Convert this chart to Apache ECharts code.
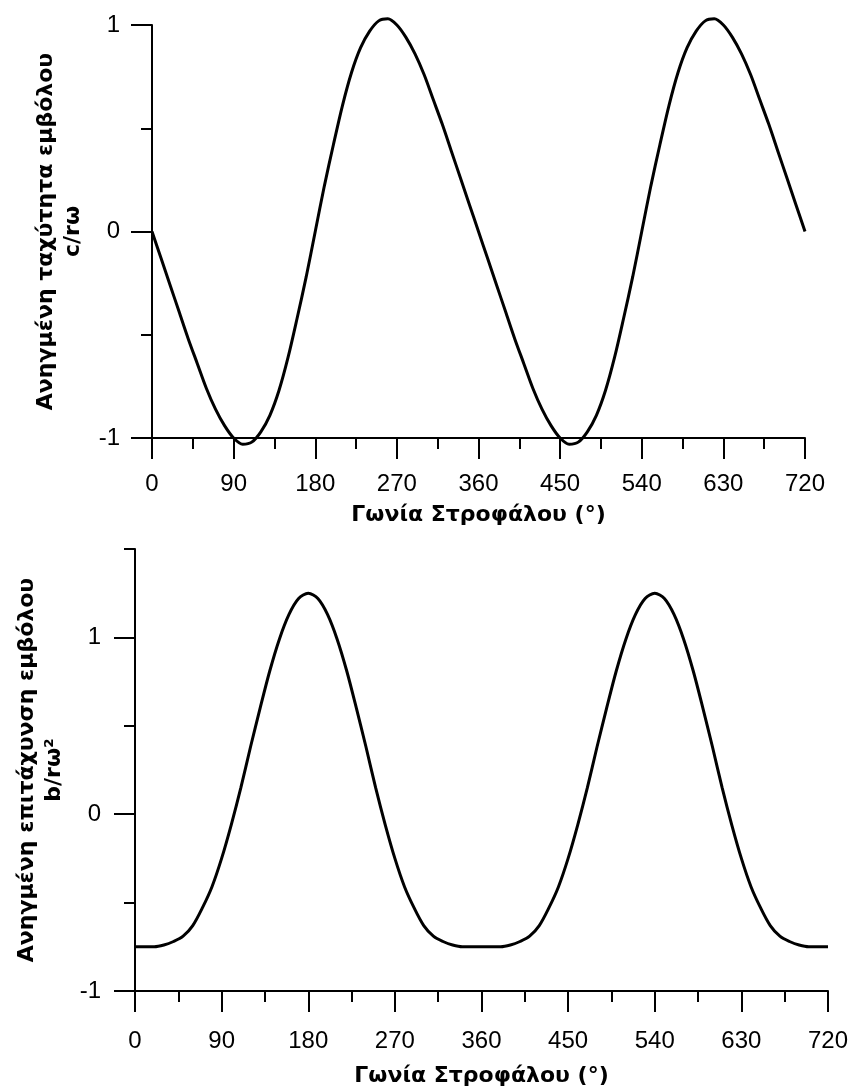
<!DOCTYPE html>
<html>
<head>
<meta charset="utf-8">
<script src="https://cdn.jsdelivr.net/npm/echarts@6/dist/echarts.min.js"></script>
<style>
html,body{margin:0;padding:0;background:#fff;}
#chart{width:852px;height:1088px;}
</style>
</head>
<body>
<div id="chart"></div>
<script>
// Crank angle samples (degrees)
const angles = [0,10,20,30,40,50,60,70,80,90,100,110,120,130,140,150,160,170,180,190,200,210,220,230,240,250,260,270,280,290,300,310,320,330,340,350,
  360,370,380,390,400,410,420,430,440,450,460,470,480,490,500,510,520,530,540,550,560,570,580,590,600,610,620,630,640,650,660,670,680,690,700,710,720];

// Normalized piston velocity c/rω
const velocity = [0,-0.13,-0.26,-0.39,-0.52,-0.64,-0.76,-0.86,-0.94,-1.0,-1.03,-1.02,-0.97,-0.89,-0.77,-0.61,-0.42,-0.22,0,0.22,0.42,0.61,0.77,0.89,0.97,1.02,1.03,1.0,0.94,0.86,0.76,0.64,0.52,0.39,0.26,0.13,
  0,-0.13,-0.26,-0.39,-0.52,-0.64,-0.76,-0.86,-0.94,-1.0,-1.03,-1.02,-0.97,-0.89,-0.77,-0.61,-0.42,-0.22,0,0.22,0.42,0.61,0.77,0.89,0.97,1.02,1.03,1.0,0.94,0.86,0.76,0.64,0.52,0.39,0.26,0.13,0];

// Normalized piston acceleration b/rω²
const acceleration = [-0.75,-0.75,-0.75,-0.74,-0.72,-0.69,-0.63,-0.53,-0.41,-0.25,-0.06,0.15,0.38,0.60,0.81,0.99,1.13,1.22,1.25,1.22,1.13,0.99,0.81,0.60,0.38,0.15,-0.06,-0.25,-0.41,-0.53,-0.63,-0.69,-0.72,-0.74,-0.75,-0.75,
  -0.75,-0.75,-0.75,-0.74,-0.72,-0.69,-0.63,-0.53,-0.41,-0.25,-0.06,0.15,0.38,0.60,0.81,0.99,1.13,1.22,1.25,1.22,1.13,0.99,0.81,0.60,0.38,0.15,-0.06,-0.25,-0.41,-0.53,-0.63,-0.69,-0.72,-0.74,-0.75,-0.75,-0.75];

// Tick values
const xMajorTicks = [0,90,180,270,360,450,540,630,720];
const xMinorTicks = [45,135,225,315,405,495,585,675];
const yTopMajor = [-1,0,1];
const yTopMinor = [-0.5,0.5];
const yBotMajor = [-1,0,1];
const yBotMinor = [-0.5,0.5,1.5];

const xTitle = 'Γωνία Στροφάλου (°)';
const yTopTitle = 'Ανηγμένη ταχύτητα εμβόλου\nc/rω';
const yBotTitle = 'Ανηγμένη επιτάχυνση εμβόλου\nb/rω²';

const FONT = '"Liberation Sans", Arial, sans-serif';
const TITLE_FONT = '"DejaVu Sans", Verdana, sans-serif';
const BLACK = '#000';

function xAxisPair(gridIndex, labelMargin, nameGap) {
  const base = {gridIndex, type:'value', min:0, max:720, position:'bottom', offset:0, splitLine:{show:false}};
  return [
    Object.assign({}, base, {
      axisLine:{show:true, onZero:false, lineStyle:{color:BLACK, width:2}},
      axisTick:{show:true, inside:false, length:11, customValues:xMinorTicks, lineStyle:{color:BLACK, width:2}},
      axisLabel:{show:false}
    }),
    Object.assign({}, base, {
      axisLine:{show:false, onZero:false},
      axisTick:{show:true, inside:false, length:21, customValues:xMajorTicks, lineStyle:{color:BLACK, width:2}},
      axisLabel:{show:true, customValues:xMajorTicks, margin:labelMargin, color:BLACK, fontSize:24, fontFamily:FONT},
      name:xTitle, nameLocation:'middle', nameGap:nameGap,
      nameTextStyle:{color:BLACK, fontSize:22, fontWeight:'bold', fontFamily:TITLE_FONT}
    })
  ];
}

function yAxisPair(gridIndex, min, max, major, minor, labelMargin, title, nameGap) {
  const base = {gridIndex, type:'value', min, max, position:'left', offset:0, splitLine:{show:false}};
  return [
    Object.assign({}, base, {
      axisLine:{show:true, onZero:false, lineStyle:{color:BLACK, width:2}},
      axisTick:{show:true, inside:false, length:11, customValues:minor, lineStyle:{color:BLACK, width:2}},
      axisLabel:{show:false}
    }),
    Object.assign({}, base, {
      axisLine:{show:false, onZero:false},
      axisTick:{show:true, inside:false, length:21, customValues:major, lineStyle:{color:BLACK, width:2}},
      axisLabel:{show:true, customValues:major, margin:labelMargin, color:BLACK, fontSize:24, fontFamily:FONT},
      name:title, nameLocation:'middle', nameGap:nameGap,
      nameTextStyle:{color:BLACK, fontSize:22, fontWeight:'bold', fontFamily:TITLE_FONT, lineHeight:27}
    })
  ];
}

const topData = angles.map((a,i)=>[a, velocity[i]]);
const botData = angles.map((a,i)=>[a, acceleration[i]]);

const option = {
  backgroundColor:'#fff',
  animation:false,
  grid:[
    {left:152, top:25, width:653, height:413},
    {left:135, top:549, width:693, height:442}
  ],
  xAxis:[].concat(xAxisPair(0, 34, 66), xAxisPair(1, 38, 74)),
  yAxis:[].concat(
    yAxisPair(0, -1, 1, yTopMajor, yTopMinor, 32, yTopTitle, 65),
    yAxisPair(1, -1, 1.5, yBotMajor, yBotMinor, 34, yBotTitle, 67)
  ),
  series:[
    {type:'line', xAxisIndex:0, yAxisIndex:0, data:topData, smooth:0.3, showSymbol:false, clip:false,
     lineStyle:{color:BLACK, width:3}},
    {type:'line', xAxisIndex:2, yAxisIndex:2, data:botData, smooth:0.3, showSymbol:false, clip:false,
     lineStyle:{color:BLACK, width:3}}
  ]
};

const chart = echarts.init(document.getElementById('chart'), null, {renderer:'canvas'});
chart.setOption(option);
</script>
</body>
</html>
